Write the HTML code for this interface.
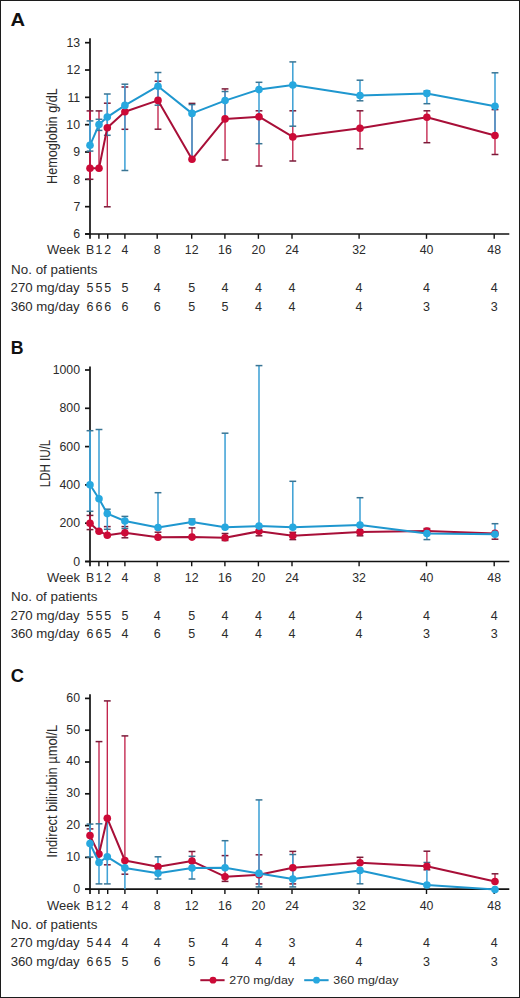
<!DOCTYPE html>
<html><head><meta charset="utf-8"><style>
html,body{margin:0;padding:0;background:#fff;}
body{width:520px;height:998px;overflow:hidden;}
.fig{position:relative;width:518px;height:996px;border:1px solid #1c1c1c;background:#fff;}
svg{position:absolute;left:-1px;top:-1px;}
text{font-family:"Liberation Sans",sans-serif;}
</style></head><body><div class="fig">
<svg width="520" height="998" viewBox="0 0 520 998">
<text x="10.60" y="26.20" font-size="18" textLength="14.55" lengthAdjust="spacingAndGlyphs" font-weight="bold" fill="#111">A</text>
<g stroke="#121212" stroke-width="1.7" fill="none">
<path d="M90 38.3 V238.8"/>
<path d="M85.2 234 H509.3"/>
<path d="M85 234.00 H90"/>
<path d="M85 206.67 H90"/>
<path d="M85 179.34 H90"/>
<path d="M85 152.01 H90"/>
<path d="M85 124.68 H90"/>
<path d="M85 97.35 H90"/>
<path d="M85 70.02 H90"/>
<path d="M85 42.69 H90"/>
</g>
<g stroke="#121212" stroke-width="1.4" fill="none">
<path d="M98.9 234 V238.8"/>
<path d="M107.7 234 V238.8"/>
<path d="M124.9 234 V238.8"/>
<path d="M157.2 234 V238.8"/>
<path d="M191.7 234 V238.8"/>
<path d="M224.9 234 V238.8"/>
<path d="M258.4 234 V238.8"/>
<path d="M292 234 V238.8"/>
<path d="M359.1 234 V238.8"/>
<path d="M426.5 234 V238.8"/>
<path d="M494.2 234 V238.8"/>
</g>
<text x="80.11" y="238.30" font-size="12.3" text-anchor="end" fill="#2b2b2b">6</text>
<text x="80.23" y="210.97" font-size="12.3" text-anchor="end" fill="#2b2b2b">7</text>
<text x="80.11" y="183.64" font-size="12.3" text-anchor="end" fill="#2b2b2b">8</text>
<text x="80.17" y="156.31" font-size="12.3" text-anchor="end" fill="#2b2b2b">9</text>
<text x="80.06" y="128.98" font-size="12.3" text-anchor="end" fill="#2b2b2b">10</text>
<text x="80.19" y="101.65" font-size="12.3" text-anchor="end" fill="#2b2b2b">11</text>
<text x="80.24" y="74.32" font-size="12.3" text-anchor="end" fill="#2b2b2b">12</text>
<text x="80.12" y="46.99" font-size="12.3" text-anchor="end" fill="#2b2b2b">13</text>
<text transform="translate(57.00,183.91) rotate(-90)" x="0" y="0" font-size="15.5" textLength="95.70" lengthAdjust="spacingAndGlyphs" fill="#2b2b2b">Hemoglobin g/dL</text>
<g stroke="#BF1A44" stroke-width="1.3" fill="none">
<path d="M90 110.9 V179.3" stroke-width="1.9"/>
<path d="M99.0 110.9 V168.2"/>
<path d="M107.3 103.2 V206.8"/>
<path d="M124.9 87.0 V129.3"/>
<path d="M158.0 81.2 V129.2"/>
<path d="M192.0 103.4 V159.3"/>
<path d="M225.05 88.9 V160"/>
<path d="M259.0 110.8 V166"/>
<path d="M292.8 110.8 V161"/>
<path d="M360.0 110.8 V148.8"/>
<path d="M426.9 110.8 V142.7"/>
<path d="M495.0 109.6 V154.5"/>
</g>
<g stroke="#7A1A38" stroke-width="1.5" fill="none"><path d="M86.60 110.9 h6.8"/><path d="M86.60 179.3 h6.8"/><path d="M95.60 110.9 h6.8"/><path d="M103.90 103.2 h6.8"/><path d="M103.90 206.8 h6.8"/><path d="M121.50 87.0 h6.8"/><path d="M121.50 129.3 h6.8"/><path d="M154.60 81.2 h6.8"/><path d="M154.60 129.2 h6.8"/><path d="M188.60 103.4 h6.8"/><path d="M221.65 88.9 h6.8"/><path d="M221.65 160 h6.8"/><path d="M255.60 110.8 h6.8"/><path d="M255.60 166 h6.8"/><path d="M289.40 110.8 h6.8"/><path d="M289.40 161 h6.8"/><path d="M356.60 110.8 h6.8"/><path d="M356.60 148.8 h6.8"/><path d="M423.50 110.8 h6.8"/><path d="M423.50 142.7 h6.8"/><path d="M491.60 109.6 h6.8"/><path d="M491.60 154.5 h6.8"/></g>
<g stroke="#40A2D6" stroke-width="1.55" fill="none">
<path d="M90 120.9 V151.1" stroke-width="1.9"/>
<path d="M99.0 119.3 V130.4"/>
<path d="M107.3 94.0 V135.3"/>
<path d="M124.9 84.2 V170.5"/>
<path d="M158.0 72.5 V105.2"/>
<path d="M192.0 104.6 V157.5"/>
<path d="M225.05 91.5 V118"/>
<path d="M259.0 82.3 V143.7"/>
<path d="M292.8 61.9 V126.2"/>
<path d="M360.0 80.2 V100.8"/>
<path d="M426.9 91.0 V103.7"/>
<path d="M495.0 72.8 V135"/>
</g>
<g stroke="#3A7594" stroke-width="1.5" fill="none"><path d="M86.60 120.9 h6.8"/><path d="M86.60 151.1 h6.8"/><path d="M95.60 119.3 h6.8"/><path d="M95.60 130.4 h6.8"/><path d="M103.90 94.0 h6.8"/><path d="M103.90 135.3 h6.8"/><path d="M121.50 84.2 h6.8"/><path d="M121.50 170.5 h6.8"/><path d="M154.60 72.5 h6.8"/><path d="M154.60 105.2 h6.8"/><path d="M188.60 104.6 h6.8"/><path d="M221.65 91.5 h6.8"/><path d="M255.60 82.3 h6.8"/><path d="M255.60 143.7 h6.8"/><path d="M289.40 61.9 h6.8"/><path d="M289.40 126.2 h6.8"/><path d="M356.60 80.2 h6.8"/><path d="M356.60 100.8 h6.8"/><path d="M423.50 91.0 h6.8"/><path d="M423.50 103.7 h6.8"/><path d="M491.60 72.8 h6.8"/></g>
<polyline points="90,168.2 99.0,168.2 107.3,127.7 124.9,111.8 158.0,100.4 192.0,159.3 225.05,118.9 259.0,116.7 292.8,136.9 360.0,128.2 426.9,117.3 495.0,135.5" fill="none" stroke="#A80F38" stroke-width="2" stroke-linejoin="round"/>
<g fill="#CC0A37"><circle cx="90" cy="168.2" r="3.8"/><circle cx="99.0" cy="168.2" r="3.8"/><circle cx="107.3" cy="127.7" r="3.8"/><circle cx="124.9" cy="111.8" r="3.8"/><circle cx="158.0" cy="100.4" r="3.8"/><circle cx="192.0" cy="159.3" r="3.8"/><circle cx="225.05" cy="118.9" r="3.8"/><circle cx="259.0" cy="116.7" r="3.8"/><circle cx="292.8" cy="136.9" r="3.8"/><circle cx="360.0" cy="128.2" r="3.8"/><circle cx="426.9" cy="117.3" r="3.8"/><circle cx="495.0" cy="135.5" r="3.8"/></g>
<polyline points="90,145.3 99.0,124.6 107.3,117.1 124.9,105.4 158.0,86.2 192.0,113.4 225.05,100.6 259.0,89.6 292.8,85.0 360.0,95.5 426.9,93.4 495.0,106.2" fill="none" stroke="#1F97CF" stroke-width="2" stroke-linejoin="round"/>
<g fill="#27A8DF"><circle cx="90" cy="145.3" r="3.8"/><circle cx="99.0" cy="124.6" r="3.8"/><circle cx="107.3" cy="117.1" r="3.8"/><circle cx="124.9" cy="105.4" r="3.8"/><circle cx="158.0" cy="86.2" r="3.8"/><circle cx="192.0" cy="113.4" r="3.8"/><circle cx="225.05" cy="100.6" r="3.8"/><circle cx="259.0" cy="89.6" r="3.8"/><circle cx="292.8" cy="85.0" r="3.8"/><circle cx="360.0" cy="95.5" r="3.8"/><circle cx="426.9" cy="93.4" r="3.8"/><circle cx="495.0" cy="106.2" r="3.8"/></g>
<text x="46.94" y="254.40" font-size="12.5" textLength="32.94" lengthAdjust="spacingAndGlyphs" fill="#2b2b2b">Week</text>
<text x="90.00" y="254.40" font-size="12.3" text-anchor="middle" fill="#2b2b2b">B</text>
<text x="98.90" y="254.40" font-size="12.3" text-anchor="middle" fill="#2b2b2b">1</text>
<text x="107.70" y="254.40" font-size="12.3" text-anchor="middle" fill="#2b2b2b">2</text>
<text x="124.90" y="254.40" font-size="12.3" text-anchor="middle" fill="#2b2b2b">4</text>
<text x="157.20" y="254.40" font-size="12.3" text-anchor="middle" fill="#2b2b2b">8</text>
<text x="191.70" y="254.40" font-size="12.3" text-anchor="middle" fill="#2b2b2b">12</text>
<text x="224.90" y="254.40" font-size="12.3" text-anchor="middle" fill="#2b2b2b">16</text>
<text x="258.40" y="254.40" font-size="12.3" text-anchor="middle" fill="#2b2b2b">20</text>
<text x="292.00" y="254.40" font-size="12.3" text-anchor="middle" fill="#2b2b2b">24</text>
<text x="359.10" y="254.40" font-size="12.3" text-anchor="middle" fill="#2b2b2b">32</text>
<text x="426.50" y="254.40" font-size="12.3" text-anchor="middle" fill="#2b2b2b">40</text>
<text x="494.20" y="254.40" font-size="12.3" text-anchor="middle" fill="#2b2b2b">48</text>
<text x="11.13" y="273.50" font-size="12.5" textLength="86.32" lengthAdjust="spacingAndGlyphs" fill="#2b2b2b">No. of patients</text>
<text x="10.54" y="292.10" font-size="12.5" textLength="69.17" lengthAdjust="spacingAndGlyphs" fill="#2b2b2b">270 mg/day</text>
<text x="10.67" y="310.70" font-size="12.5" textLength="69.04" lengthAdjust="spacingAndGlyphs" fill="#2b2b2b">360 mg/day</text>
<text x="90.00" y="292.10" font-size="12.5" text-anchor="middle" fill="#2b2b2b">5</text>
<text x="98.90" y="292.10" font-size="12.5" text-anchor="middle" fill="#2b2b2b">5</text>
<text x="107.70" y="292.10" font-size="12.5" text-anchor="middle" fill="#2b2b2b">5</text>
<text x="124.90" y="292.10" font-size="12.5" text-anchor="middle" fill="#2b2b2b">5</text>
<text x="157.20" y="292.10" font-size="12.5" text-anchor="middle" fill="#2b2b2b">4</text>
<text x="191.70" y="292.10" font-size="12.5" text-anchor="middle" fill="#2b2b2b">5</text>
<text x="224.90" y="292.10" font-size="12.5" text-anchor="middle" fill="#2b2b2b">4</text>
<text x="258.40" y="292.10" font-size="12.5" text-anchor="middle" fill="#2b2b2b">4</text>
<text x="292.00" y="292.10" font-size="12.5" text-anchor="middle" fill="#2b2b2b">4</text>
<text x="359.10" y="292.10" font-size="12.5" text-anchor="middle" fill="#2b2b2b">4</text>
<text x="426.50" y="292.10" font-size="12.5" text-anchor="middle" fill="#2b2b2b">4</text>
<text x="494.20" y="292.10" font-size="12.5" text-anchor="middle" fill="#2b2b2b">4</text>
<text x="90.00" y="310.70" font-size="12.5" text-anchor="middle" fill="#2b2b2b">6</text>
<text x="98.90" y="310.70" font-size="12.5" text-anchor="middle" fill="#2b2b2b">6</text>
<text x="107.70" y="310.70" font-size="12.5" text-anchor="middle" fill="#2b2b2b">6</text>
<text x="124.90" y="310.70" font-size="12.5" text-anchor="middle" fill="#2b2b2b">6</text>
<text x="157.20" y="310.70" font-size="12.5" text-anchor="middle" fill="#2b2b2b">6</text>
<text x="191.70" y="310.70" font-size="12.5" text-anchor="middle" fill="#2b2b2b">5</text>
<text x="224.90" y="310.70" font-size="12.5" text-anchor="middle" fill="#2b2b2b">5</text>
<text x="258.40" y="310.70" font-size="12.5" text-anchor="middle" fill="#2b2b2b">4</text>
<text x="292.00" y="310.70" font-size="12.5" text-anchor="middle" fill="#2b2b2b">4</text>
<text x="359.10" y="310.70" font-size="12.5" text-anchor="middle" fill="#2b2b2b">4</text>
<text x="426.50" y="310.70" font-size="12.5" text-anchor="middle" fill="#2b2b2b">3</text>
<text x="494.20" y="310.70" font-size="12.5" text-anchor="middle" fill="#2b2b2b">3</text>
<text x="10.75" y="354.00" font-size="18" textLength="12.79" lengthAdjust="spacingAndGlyphs" font-weight="bold" fill="#111">B</text>
<g stroke="#121212" stroke-width="1.7" fill="none">
<path d="M90 366.5 V566.3"/>
<path d="M85.2 561.5 H509.3"/>
<path d="M85 561.50 H90"/>
<path d="M85 523.20 H90"/>
<path d="M85 484.90 H90"/>
<path d="M85 446.60 H90"/>
<path d="M85 408.30 H90"/>
<path d="M85 370.00 H90"/>
</g>
<g stroke="#121212" stroke-width="1.4" fill="none">
<path d="M98.9 561.5 V566.3"/>
<path d="M107.7 561.5 V566.3"/>
<path d="M124.9 561.5 V566.3"/>
<path d="M157.2 561.5 V566.3"/>
<path d="M191.7 561.5 V566.3"/>
<path d="M224.9 561.5 V566.3"/>
<path d="M258.4 561.5 V566.3"/>
<path d="M292 561.5 V566.3"/>
<path d="M359.1 561.5 V566.3"/>
<path d="M426.5 561.5 V566.3"/>
<path d="M494.2 561.5 V566.3"/>
</g>
<text x="80.04" y="565.60" font-size="12.3" text-anchor="end" fill="#2b2b2b">0</text>
<text x="80.07" y="527.30" font-size="12.3" text-anchor="end" fill="#2b2b2b">200</text>
<text x="80.07" y="489.00" font-size="12.3" text-anchor="end" fill="#2b2b2b">400</text>
<text x="80.07" y="450.70" font-size="12.3" text-anchor="end" fill="#2b2b2b">600</text>
<text x="80.07" y="412.40" font-size="12.3" text-anchor="end" fill="#2b2b2b">800</text>
<text x="80.03" y="374.10" font-size="12.3" text-anchor="end" fill="#2b2b2b">1000</text>
<text transform="translate(49.80,487.22) rotate(-90)" x="0" y="0" font-size="15.5" textLength="47.50" lengthAdjust="spacingAndGlyphs" fill="#2b2b2b">LDH IU/L</text>
<g stroke="#BF1A44" stroke-width="1.3" fill="none">
<path d="M90 515.4 V529.6" stroke-width="1.9"/>
<path d="M107.3 526.6 V535.2"/>
<path d="M124.9 526.6 V537.8"/>
<path d="M158.0 532.2 V537.2"/>
<path d="M192.0 527.9 V537.1"/>
<path d="M225.05 533.5 V540.5"/>
<path d="M259.0 531.3 V535.8"/>
<path d="M292.8 532.3 V539.6"/>
<path d="M360.0 531.9 V535.8"/>
<path d="M426.9 528.5 V531"/>
<path d="M495.0 533.4 V539.2"/>
</g>
<g stroke="#7A1A38" stroke-width="1.5" fill="none"><path d="M86.60 515.4 h6.8"/><path d="M86.60 529.6 h6.8"/><path d="M103.90 526.6 h6.8"/><path d="M121.50 526.6 h6.8"/><path d="M121.50 537.8 h6.8"/><path d="M154.60 532.2 h6.8"/><path d="M188.60 527.9 h6.8"/><path d="M221.65 533.5 h6.8"/><path d="M221.65 540.5 h6.8"/><path d="M255.60 535.8 h6.8"/><path d="M289.40 532.3 h6.8"/><path d="M289.40 539.6 h6.8"/><path d="M356.60 535.8 h6.8"/><path d="M423.50 528.5 h6.8"/><path d="M491.60 539.2 h6.8"/></g>
<g stroke="#40A2D6" stroke-width="1.55" fill="none">
<path d="M90 430.7 V511.3" stroke-width="1.9"/>
<path d="M99.0 429.5 V531.0"/>
<path d="M107.3 509.2 V529.3"/>
<path d="M124.9 516.4 V528.6"/>
<path d="M158.0 492.7 V527.5"/>
<path d="M192.0 519.0 V522"/>
<path d="M225.05 433.2 V527.3"/>
<path d="M259.0 365.6 V526.1"/>
<path d="M292.8 481.3 V527.2"/>
<path d="M360.0 497.7 V525"/>
<path d="M426.9 533.5 V539.6"/>
<path d="M495.0 523.7 V534.2"/>
</g>
<g stroke="#3A7594" stroke-width="1.5" fill="none"><path d="M86.60 430.7 h6.8"/><path d="M86.60 511.3 h6.8"/><path d="M95.60 429.5 h6.8"/><path d="M103.90 509.2 h6.8"/><path d="M103.90 529.3 h6.8"/><path d="M121.50 516.4 h6.8"/><path d="M121.50 528.6 h6.8"/><path d="M154.60 492.7 h6.8"/><path d="M188.60 519.0 h6.8"/><path d="M221.65 433.2 h6.8"/><path d="M255.60 365.6 h6.8"/><path d="M289.40 481.3 h6.8"/><path d="M356.60 497.7 h6.8"/><path d="M423.50 539.6 h6.8"/><path d="M491.60 523.7 h6.8"/></g>
<polyline points="90,523.2 99.0,531.2 107.3,535.2 124.9,532.7 158.0,537.2 192.0,537.1 225.05,537.8 259.0,531.3 292.8,535.8 360.0,531.9 426.9,531.0 495.0,533.4" fill="none" stroke="#A80F38" stroke-width="2" stroke-linejoin="round"/>
<g fill="#CC0A37"><circle cx="90" cy="523.2" r="3.8"/><circle cx="99.0" cy="531.2" r="3.8"/><circle cx="107.3" cy="535.2" r="3.8"/><circle cx="124.9" cy="532.7" r="3.8"/><circle cx="158.0" cy="537.2" r="3.8"/><circle cx="192.0" cy="537.1" r="3.8"/><circle cx="225.05" cy="537.8" r="3.8"/><circle cx="259.0" cy="531.3" r="3.8"/><circle cx="292.8" cy="535.8" r="3.8"/><circle cx="360.0" cy="531.9" r="3.8"/><circle cx="426.9" cy="531.0" r="3.8"/><circle cx="495.0" cy="533.4" r="3.8"/></g>
<polyline points="90,484.8 99.0,498.8 107.3,513.6 124.9,521.0 158.0,527.5 192.0,522.0 225.05,527.3 259.0,526.1 292.8,527.2 360.0,525.0 426.9,533.5 495.0,534.2" fill="none" stroke="#1F97CF" stroke-width="2" stroke-linejoin="round"/>
<g fill="#27A8DF"><circle cx="90" cy="484.8" r="3.8"/><circle cx="99.0" cy="498.8" r="3.8"/><circle cx="107.3" cy="513.6" r="3.8"/><circle cx="124.9" cy="521.0" r="3.8"/><circle cx="158.0" cy="527.5" r="3.8"/><circle cx="192.0" cy="522.0" r="3.8"/><circle cx="225.05" cy="527.3" r="3.8"/><circle cx="259.0" cy="526.1" r="3.8"/><circle cx="292.8" cy="527.2" r="3.8"/><circle cx="360.0" cy="525.0" r="3.8"/><circle cx="426.9" cy="533.5" r="3.8"/><circle cx="495.0" cy="534.2" r="3.8"/></g>
<text x="46.94" y="581.90" font-size="12.5" textLength="32.94" lengthAdjust="spacingAndGlyphs" fill="#2b2b2b">Week</text>
<text x="90.00" y="581.90" font-size="12.3" text-anchor="middle" fill="#2b2b2b">B</text>
<text x="98.90" y="581.90" font-size="12.3" text-anchor="middle" fill="#2b2b2b">1</text>
<text x="107.70" y="581.90" font-size="12.3" text-anchor="middle" fill="#2b2b2b">2</text>
<text x="124.90" y="581.90" font-size="12.3" text-anchor="middle" fill="#2b2b2b">4</text>
<text x="157.20" y="581.90" font-size="12.3" text-anchor="middle" fill="#2b2b2b">8</text>
<text x="191.70" y="581.90" font-size="12.3" text-anchor="middle" fill="#2b2b2b">12</text>
<text x="224.90" y="581.90" font-size="12.3" text-anchor="middle" fill="#2b2b2b">16</text>
<text x="258.40" y="581.90" font-size="12.3" text-anchor="middle" fill="#2b2b2b">20</text>
<text x="292.00" y="581.90" font-size="12.3" text-anchor="middle" fill="#2b2b2b">24</text>
<text x="359.10" y="581.90" font-size="12.3" text-anchor="middle" fill="#2b2b2b">32</text>
<text x="426.50" y="581.90" font-size="12.3" text-anchor="middle" fill="#2b2b2b">40</text>
<text x="494.20" y="581.90" font-size="12.3" text-anchor="middle" fill="#2b2b2b">48</text>
<text x="11.13" y="601.00" font-size="12.5" textLength="86.32" lengthAdjust="spacingAndGlyphs" fill="#2b2b2b">No. of patients</text>
<text x="10.54" y="619.60" font-size="12.5" textLength="69.17" lengthAdjust="spacingAndGlyphs" fill="#2b2b2b">270 mg/day</text>
<text x="10.67" y="638.20" font-size="12.5" textLength="69.04" lengthAdjust="spacingAndGlyphs" fill="#2b2b2b">360 mg/day</text>
<text x="90.00" y="619.60" font-size="12.5" text-anchor="middle" fill="#2b2b2b">5</text>
<text x="98.90" y="619.60" font-size="12.5" text-anchor="middle" fill="#2b2b2b">5</text>
<text x="107.70" y="619.60" font-size="12.5" text-anchor="middle" fill="#2b2b2b">5</text>
<text x="124.90" y="619.60" font-size="12.5" text-anchor="middle" fill="#2b2b2b">5</text>
<text x="157.20" y="619.60" font-size="12.5" text-anchor="middle" fill="#2b2b2b">4</text>
<text x="191.70" y="619.60" font-size="12.5" text-anchor="middle" fill="#2b2b2b">5</text>
<text x="224.90" y="619.60" font-size="12.5" text-anchor="middle" fill="#2b2b2b">4</text>
<text x="258.40" y="619.60" font-size="12.5" text-anchor="middle" fill="#2b2b2b">4</text>
<text x="292.00" y="619.60" font-size="12.5" text-anchor="middle" fill="#2b2b2b">4</text>
<text x="359.10" y="619.60" font-size="12.5" text-anchor="middle" fill="#2b2b2b">4</text>
<text x="426.50" y="619.60" font-size="12.5" text-anchor="middle" fill="#2b2b2b">4</text>
<text x="494.20" y="619.60" font-size="12.5" text-anchor="middle" fill="#2b2b2b">4</text>
<text x="90.00" y="638.20" font-size="12.5" text-anchor="middle" fill="#2b2b2b">6</text>
<text x="98.90" y="638.20" font-size="12.5" text-anchor="middle" fill="#2b2b2b">6</text>
<text x="107.70" y="638.20" font-size="12.5" text-anchor="middle" fill="#2b2b2b">5</text>
<text x="124.90" y="638.20" font-size="12.5" text-anchor="middle" fill="#2b2b2b">4</text>
<text x="157.20" y="638.20" font-size="12.5" text-anchor="middle" fill="#2b2b2b">6</text>
<text x="191.70" y="638.20" font-size="12.5" text-anchor="middle" fill="#2b2b2b">5</text>
<text x="224.90" y="638.20" font-size="12.5" text-anchor="middle" fill="#2b2b2b">4</text>
<text x="258.40" y="638.20" font-size="12.5" text-anchor="middle" fill="#2b2b2b">4</text>
<text x="292.00" y="638.20" font-size="12.5" text-anchor="middle" fill="#2b2b2b">4</text>
<text x="359.10" y="638.20" font-size="12.5" text-anchor="middle" fill="#2b2b2b">4</text>
<text x="426.50" y="638.20" font-size="12.5" text-anchor="middle" fill="#2b2b2b">3</text>
<text x="494.20" y="638.20" font-size="12.5" text-anchor="middle" fill="#2b2b2b">3</text>
<text x="10.77" y="681.50" font-size="18" textLength="13.23" lengthAdjust="spacingAndGlyphs" font-weight="bold" fill="#111">C</text>
<g stroke="#121212" stroke-width="1.7" fill="none">
<path d="M90 694.2 V894.0"/>
<path d="M85.2 889.2 H509.3"/>
<path d="M85 889.20 H90"/>
<path d="M85 857.40 H90"/>
<path d="M85 825.60 H90"/>
<path d="M85 793.80 H90"/>
<path d="M85 762.00 H90"/>
<path d="M85 730.20 H90"/>
<path d="M85 698.40 H90"/>
</g>
<g stroke="#121212" stroke-width="1.4" fill="none">
<path d="M98.9 889.2 V894.0"/>
<path d="M107.7 889.2 V894.0"/>
<path d="M124.9 889.2 V894.0"/>
<path d="M157.2 889.2 V894.0"/>
<path d="M191.7 889.2 V894.0"/>
<path d="M224.9 889.2 V894.0"/>
<path d="M258.4 889.2 V894.0"/>
<path d="M292 889.2 V894.0"/>
<path d="M359.1 889.2 V894.0"/>
<path d="M426.5 889.2 V894.0"/>
<path d="M494.2 889.2 V894.0"/>
</g>
<text x="80.04" y="892.60" font-size="12.3" text-anchor="end" fill="#2b2b2b">0</text>
<text x="80.06" y="860.80" font-size="12.3" text-anchor="end" fill="#2b2b2b">10</text>
<text x="80.06" y="829.00" font-size="12.3" text-anchor="end" fill="#2b2b2b">20</text>
<text x="80.06" y="797.20" font-size="12.3" text-anchor="end" fill="#2b2b2b">30</text>
<text x="80.06" y="765.40" font-size="12.3" text-anchor="end" fill="#2b2b2b">40</text>
<text x="80.06" y="733.60" font-size="12.3" text-anchor="end" fill="#2b2b2b">50</text>
<text x="80.06" y="701.80" font-size="12.3" text-anchor="end" fill="#2b2b2b">60</text>
<text transform="translate(57.00,857.66) rotate(-90)" x="0" y="0" font-size="15.5" textLength="132.89" lengthAdjust="spacingAndGlyphs" fill="#2b2b2b">Indirect bilirubin µmol/L</text>
<g stroke="#BF1A44" stroke-width="1.3" fill="none">
<path d="M90 828.9 V835.6" stroke-width="1.9"/>
<path d="M99.0 741.6 V854.1"/>
<path d="M107.3 700.9 V864.8"/>
<path d="M124.9 735.9 V874.2"/>
<path d="M192.0 851.5 V861.1"/>
<path d="M225.05 855.6 V881.4"/>
<path d="M259.0 854.8 V883.9"/>
<path d="M292.8 851.4 V883.9"/>
<path d="M360.0 857.3 V862.7"/>
<path d="M426.9 851.2 V869.8"/>
<path d="M495.0 873.8 V881.5"/>
</g>
<g stroke="#7A1A38" stroke-width="1.5" fill="none"><path d="M86.60 828.9 h6.8"/><path d="M95.60 741.6 h6.8"/><path d="M103.90 700.9 h6.8"/><path d="M103.90 864.8 h6.8"/><path d="M121.50 735.9 h6.8"/><path d="M121.50 874.2 h6.8"/><path d="M188.60 851.5 h6.8"/><path d="M221.65 855.6 h6.8"/><path d="M221.65 881.4 h6.8"/><path d="M255.60 854.8 h6.8"/><path d="M255.60 883.9 h6.8"/><path d="M289.40 851.4 h6.8"/><path d="M289.40 883.9 h6.8"/><path d="M356.60 857.3 h6.8"/><path d="M423.50 851.2 h6.8"/><path d="M423.50 869.8 h6.8"/><path d="M491.60 873.8 h6.8"/></g>
<g stroke="#40A2D6" stroke-width="1.55" fill="none">
<path d="M90 824.1 V857.1" stroke-width="1.9"/>
<path d="M99.0 823.8 V883.9"/>
<path d="M107.3 822 V883.9"/>
<path d="M124.9 866 V889.2"/>
<path d="M158.0 856.8 V879"/>
<path d="M192.0 856.3 V879"/>
<path d="M225.05 840.7 V867.8"/>
<path d="M259.0 799.9 V886.9"/>
<path d="M292.8 854.5 V886.9"/>
<path d="M360.0 870.4 V883.8"/>
<path d="M426.9 862.5 V885"/>
</g>
<g stroke="#3A7594" stroke-width="1.5" fill="none"><path d="M86.60 824.1 h6.8"/><path d="M86.60 857.1 h6.8"/><path d="M95.60 823.8 h6.8"/><path d="M95.60 883.9 h6.8"/><path d="M103.90 883.9 h6.8"/><path d="M154.60 856.8 h6.8"/><path d="M154.60 879 h6.8"/><path d="M188.60 856.3 h6.8"/><path d="M188.60 879 h6.8"/><path d="M221.65 840.7 h6.8"/><path d="M255.60 799.9 h6.8"/><path d="M255.60 886.9 h6.8"/><path d="M289.40 854.5 h6.8"/><path d="M289.40 886.9 h6.8"/><path d="M356.60 883.8 h6.8"/><path d="M423.50 862.5 h6.8"/></g>
<polyline points="90,835.6 99.0,854.1 107.3,818.3 124.9,860.5 158.0,866.8 192.0,861.1 225.05,876.7 259.0,874.8 292.8,867.8 360.0,862.7 426.9,866.2 495.0,881.5" fill="none" stroke="#A80F38" stroke-width="2" stroke-linejoin="round"/>
<g fill="#CC0A37"><circle cx="90" cy="835.6" r="3.8"/><circle cx="99.0" cy="854.1" r="3.8"/><circle cx="107.3" cy="818.3" r="3.8"/><circle cx="124.9" cy="860.5" r="3.8"/><circle cx="158.0" cy="866.8" r="3.8"/><circle cx="192.0" cy="861.1" r="3.8"/><circle cx="225.05" cy="876.7" r="3.8"/><circle cx="259.0" cy="874.8" r="3.8"/><circle cx="292.8" cy="867.8" r="3.8"/><circle cx="360.0" cy="862.7" r="3.8"/><circle cx="426.9" cy="866.2" r="3.8"/><circle cx="495.0" cy="881.5" r="3.8"/></g>
<polyline points="90,843.6 99.0,862.5 107.3,856.8 124.9,867.9 158.0,873.3 192.0,868.0 225.05,867.8 259.0,873.4 292.8,879.1 360.0,870.4 426.9,885.0 495.0,889.6" fill="none" stroke="#1F97CF" stroke-width="2" stroke-linejoin="round"/>
<g fill="#27A8DF"><circle cx="90" cy="843.6" r="3.8"/><circle cx="99.0" cy="862.5" r="3.8"/><circle cx="107.3" cy="856.8" r="3.8"/><circle cx="124.9" cy="867.9" r="3.8"/><circle cx="158.0" cy="873.3" r="3.8"/><circle cx="192.0" cy="868.0" r="3.8"/><circle cx="225.05" cy="867.8" r="3.8"/><circle cx="259.0" cy="873.4" r="3.8"/><circle cx="292.8" cy="879.1" r="3.8"/><circle cx="360.0" cy="870.4" r="3.8"/><circle cx="426.9" cy="885.0" r="3.8"/><circle cx="495.0" cy="889.6" r="3.8"/></g>
<text x="46.94" y="909.60" font-size="12.5" textLength="32.94" lengthAdjust="spacingAndGlyphs" fill="#2b2b2b">Week</text>
<text x="90.00" y="909.60" font-size="12.3" text-anchor="middle" fill="#2b2b2b">B</text>
<text x="98.90" y="909.60" font-size="12.3" text-anchor="middle" fill="#2b2b2b">1</text>
<text x="107.70" y="909.60" font-size="12.3" text-anchor="middle" fill="#2b2b2b">2</text>
<text x="124.90" y="909.60" font-size="12.3" text-anchor="middle" fill="#2b2b2b">4</text>
<text x="157.20" y="909.60" font-size="12.3" text-anchor="middle" fill="#2b2b2b">8</text>
<text x="191.70" y="909.60" font-size="12.3" text-anchor="middle" fill="#2b2b2b">12</text>
<text x="224.90" y="909.60" font-size="12.3" text-anchor="middle" fill="#2b2b2b">16</text>
<text x="258.40" y="909.60" font-size="12.3" text-anchor="middle" fill="#2b2b2b">20</text>
<text x="292.00" y="909.60" font-size="12.3" text-anchor="middle" fill="#2b2b2b">24</text>
<text x="359.10" y="909.60" font-size="12.3" text-anchor="middle" fill="#2b2b2b">32</text>
<text x="426.50" y="909.60" font-size="12.3" text-anchor="middle" fill="#2b2b2b">40</text>
<text x="494.20" y="909.60" font-size="12.3" text-anchor="middle" fill="#2b2b2b">48</text>
<text x="11.13" y="928.70" font-size="12.5" textLength="86.32" lengthAdjust="spacingAndGlyphs" fill="#2b2b2b">No. of patients</text>
<text x="10.54" y="947.30" font-size="12.5" textLength="69.17" lengthAdjust="spacingAndGlyphs" fill="#2b2b2b">270 mg/day</text>
<text x="10.67" y="965.90" font-size="12.5" textLength="69.04" lengthAdjust="spacingAndGlyphs" fill="#2b2b2b">360 mg/day</text>
<text x="90.00" y="947.30" font-size="12.5" text-anchor="middle" fill="#2b2b2b">5</text>
<text x="98.90" y="947.30" font-size="12.5" text-anchor="middle" fill="#2b2b2b">4</text>
<text x="107.70" y="947.30" font-size="12.5" text-anchor="middle" fill="#2b2b2b">4</text>
<text x="124.90" y="947.30" font-size="12.5" text-anchor="middle" fill="#2b2b2b">4</text>
<text x="157.20" y="947.30" font-size="12.5" text-anchor="middle" fill="#2b2b2b">4</text>
<text x="191.70" y="947.30" font-size="12.5" text-anchor="middle" fill="#2b2b2b">5</text>
<text x="224.90" y="947.30" font-size="12.5" text-anchor="middle" fill="#2b2b2b">4</text>
<text x="258.40" y="947.30" font-size="12.5" text-anchor="middle" fill="#2b2b2b">4</text>
<text x="292.00" y="947.30" font-size="12.5" text-anchor="middle" fill="#2b2b2b">3</text>
<text x="359.10" y="947.30" font-size="12.5" text-anchor="middle" fill="#2b2b2b">4</text>
<text x="426.50" y="947.30" font-size="12.5" text-anchor="middle" fill="#2b2b2b">4</text>
<text x="494.20" y="947.30" font-size="12.5" text-anchor="middle" fill="#2b2b2b">4</text>
<text x="90.00" y="965.90" font-size="12.5" text-anchor="middle" fill="#2b2b2b">6</text>
<text x="98.90" y="965.90" font-size="12.5" text-anchor="middle" fill="#2b2b2b">6</text>
<text x="107.70" y="965.90" font-size="12.5" text-anchor="middle" fill="#2b2b2b">5</text>
<text x="124.90" y="965.90" font-size="12.5" text-anchor="middle" fill="#2b2b2b">5</text>
<text x="157.20" y="965.90" font-size="12.5" text-anchor="middle" fill="#2b2b2b">6</text>
<text x="191.70" y="965.90" font-size="12.5" text-anchor="middle" fill="#2b2b2b">5</text>
<text x="224.90" y="965.90" font-size="12.5" text-anchor="middle" fill="#2b2b2b">4</text>
<text x="258.40" y="965.90" font-size="12.5" text-anchor="middle" fill="#2b2b2b">4</text>
<text x="292.00" y="965.90" font-size="12.5" text-anchor="middle" fill="#2b2b2b">4</text>
<text x="359.10" y="965.90" font-size="12.5" text-anchor="middle" fill="#2b2b2b">4</text>
<text x="426.50" y="965.90" font-size="12.5" text-anchor="middle" fill="#2b2b2b">3</text>
<text x="494.20" y="965.90" font-size="12.5" text-anchor="middle" fill="#2b2b2b">3</text>
<path d="M200.3 980.2 H224.6" stroke="#A80F38" stroke-width="2"/><circle cx="213" cy="980.2" r="3.4" fill="#CC0A37"/>
<path d="M304.2 980.2 H328.6" stroke="#1F97CF" stroke-width="2"/><circle cx="316.5" cy="980.2" r="3.4" fill="#27A8DF"/>
<text x="229.28" y="983.80" font-size="11.2" textLength="64.73" lengthAdjust="spacingAndGlyphs" fill="#2b2b2b">270 mg/day</text>
<text x="333.30" y="983.80" font-size="11.2" textLength="65.11" lengthAdjust="spacingAndGlyphs" fill="#2b2b2b">360 mg/day</text>
</svg></div></body></html>
